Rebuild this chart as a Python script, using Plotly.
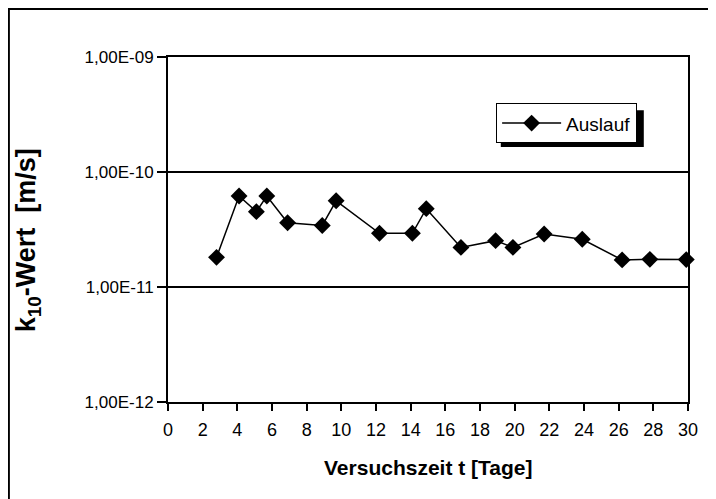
import plotly.graph_objects as go

# Versuchszeit [Tage] und k10-Wert [m/s]
days = [2.8, 4.1, 5.1, 5.7, 6.9, 8.9, 9.7, 12.2, 14.1, 14.9,
        16.9, 18.9, 19.9, 21.7, 23.9, 26.2, 27.8, 29.9]
k10 = [1.81e-11, 6.18e-11, 4.52e-11, 6.18e-11, 3.62e-11, 3.43e-11, 5.62e-11, 2.93e-11, 2.93e-11, 4.80e-11,
       2.21e-11, 2.53e-11, 2.21e-11, 2.89e-11, 2.60e-11, 1.72e-11, 1.74e-11, 1.73e-11]
series_name = "Auslauf"

y_tickvals = [1e-12, 1e-11, 1e-10, 1e-9]
y_ticktext = ["1,00E-12", "1,00E-11", "1,00E-10", "1,00E-09"]
x_tickvals = list(range(0, 31, 2))

FONT = "Liberation Sans, Arial, sans-serif"

fig = go.Figure()
fig.add_trace(go.Scatter(
    x=days, y=k10, name=series_name, mode="lines+markers",
    line=dict(color="black", width=1.5),
    marker=dict(symbol="diamond", size=13, color="black"),
    cliponaxis=False,
))

# page body has an 8px margin, so the figure is a bit smaller than the window
fig.update_layout(
    width=708, height=491,
    margin=dict(l=160, r=28, t=49, b=97),
    paper_bgcolor="white", plot_bgcolor="white",
    font=dict(family=FONT, size=16, color="black"),
    showlegend=True,
    legend=dict(
        x=0.631, y=0.866, xanchor="left", yanchor="top",
        bgcolor="white", bordercolor="black", borderwidth=1,
        font=dict(size=19), itemwidth=59,
    ),
)

fig.update_xaxes(
    range=[0, 30], tickvals=x_tickvals, ticks="outside", ticklen=7, tickwidth=1.5,
    tickcolor="black", showline=True, linecolor="black", linewidth=2, mirror=True,
    showgrid=False, zeroline=False, tickfont=dict(size=18), ticklabelstandoff=3,
)
fig.update_yaxes(
    type="log", range=[-12, -9], tickvals=y_tickvals, ticktext=y_ticktext,
    ticks="outside", ticklen=9, tickwidth=1.5, tickcolor="black",
    showline=True, linecolor="black", linewidth=2, mirror=True,
    showgrid=True, gridcolor="black", gridwidth=1.5, zeroline=False,
    tickfont=dict(size=17),
)

# axis titles
fig.add_annotation(
    text="<b>k<sub>10</sub>-Wert  [m/s]</b>", xref="paper", yref="paper",
    x=-0.269, y=0.469, textangle=-90, showarrow=False,
    font=dict(size=27), xanchor="center", yanchor="middle",
)
fig.add_annotation(
    text="<b>Versuchszeit t [Tage]</b>", xref="paper", yref="paper",
    x=0.5, y=-0.191, showarrow=False,
    font=dict(size=21), xanchor="center", yanchor="middle",
)

# legend shadow and outer frame
fig.add_shape(type="rect", xref="paper", yref="paper",
              x0=0.640, x1=0.915, y0=0.739, y1=0.846,
              fillcolor="black", line=dict(width=0), layer="above")
fig.add_shape(type="rect", xref="paper", yref="paper",
              x0=-0.306, x1=1.048, y0=-0.35, y1=1.139,
              line=dict(color="black", width=2), layer="above")

fig.write_html("out.html")
